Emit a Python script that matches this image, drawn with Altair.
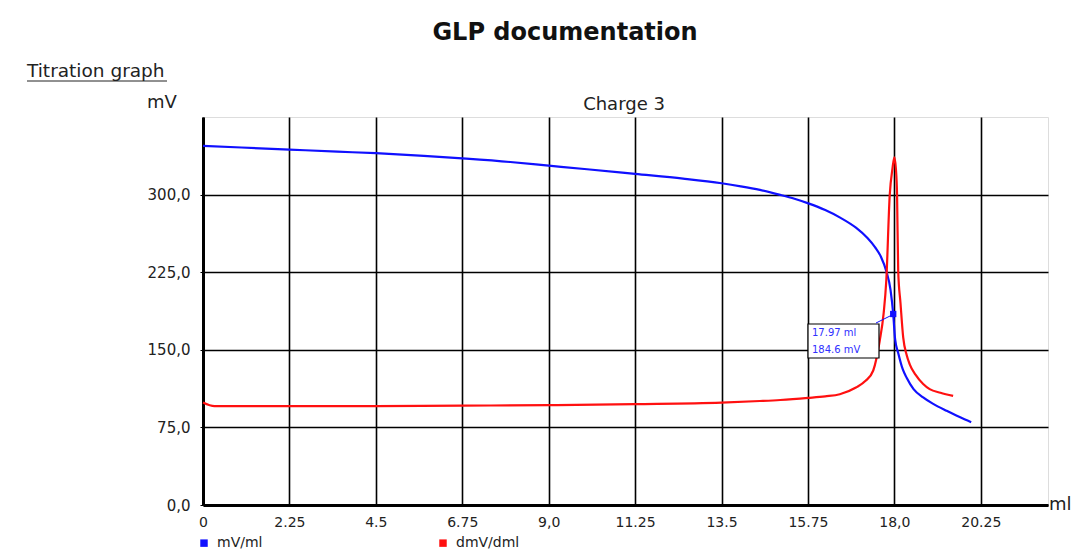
import altair as alt
import pandas as pd

# ---- data ----
mv_ml = [0.0, 1.0, 2.25, 3.5, 4.5, 5.75, 6.75, 8.0, 9.0, 10.0, 11.25, 12.5, 13.5, 14.0,
         14.5, 15.0, 15.4, 15.76, 16.2, 16.6, 17.0, 17.3, 17.5, 17.65, 17.79, 17.9, 17.97,
         18.02, 18.1, 18.22, 18.32, 18.5, 18.75, 19.0, 19.36, 19.7, 20.0]
mv_val = [347, 345.5, 343.5, 341.5, 340, 337.5, 335, 331.5, 328, 324.5, 320, 315.5, 311, 308,
          304.5, 300, 296, 291.5, 285, 277.5, 268, 258, 249, 240, 226, 208, 184.6,
          160, 147, 131, 123, 112, 104, 98, 91, 85, 80]

dmv_ml = [0.0, 0.3, 0.6, 2.25, 4.5, 6.75, 9.0, 11.25, 13.5, 14.5, 15.03, 15.75, 16.2,
          16.58, 17.0, 17.25, 17.45, 17.62, 17.72, 17.79, 17.88, 17.95, 18.0, 18.04,
          18.07, 18.1, 18.16, 18.23, 18.32, 18.4, 18.55, 18.75, 18.92, 19.2, 19.53]
dmv_val = [99, 95.5, 95.5, 95.5, 95.5, 96, 96.5, 97.5, 99, 100.5, 101.5, 103.5, 105,
           107, 113.5, 120, 130, 159, 185, 217, 300, 325, 336, 325,
           300, 226, 195, 162, 145, 136, 126, 117, 112, 108.5, 105.5]

series_names = ["mV/ml", "dmV/dml"]
series_colors = ["#1010ff", "#ff1010"]

x_ticks = [0, 2.25, 4.5, 6.75, 9.0, 11.25, 13.5, 15.75, 18.0, 20.25]
y_ticks = [0, 75, 150, 225, 300]

ann_x, ann_y = 17.97, 184.6

FONT = "DejaVu Sans"
W, H = 845, 388

df = pd.concat([
    pd.DataFrame({"ml": mv_ml, "mV": mv_val, "series": series_names[0], "order": range(len(mv_ml))}),
    pd.DataFrame({"ml": dmv_ml, "mV": dmv_val, "series": series_names[1], "order": range(len(dmv_ml))}),
])

xscale = alt.Scale(domain=[0, 22], nice=False, zero=False)
yscale = alt.Scale(domain=[0, 375], nice=False)

x_label_expr = ("datum.value == 0 ? '0' : (datum.value % 1 == 0 ? "
                "replace(format(datum.value, '.1f'), '.', ',') : toString(datum.value))")
y_label_expr = "replace(format(datum.value, '.1f'), '.', ',')"

lines = alt.Chart(df).mark_line(strokeWidth=2.2, interpolate="monotone").encode(
    x=alt.X("ml:Q", scale=xscale,
            axis=alt.Axis(values=x_ticks, title=None, grid=True, gridColor="black",
                          gridWidth=1.6, gridOpacity=1, domainColor="black", domainWidth=3,
                          ticks=False, labelExpr=x_label_expr, labelFont=FONT,
                          labelFontSize=14, labelColor="#222", labelPadding=10,
                          labelFlush=False)),
    y=alt.Y("mV:Q", scale=yscale,
            axis=alt.Axis(values=y_ticks, title=None, grid=True, gridColor="black",
                          gridWidth=1.6, gridOpacity=1, domainColor="black", domainWidth=3,
                          ticks=True, tickSize=3, tickColor="black", labelExpr=y_label_expr,
                          labelFont=FONT, labelFontSize=15, labelColor="#222",
                          labelPadding=10)),
    color=alt.Color("series:N", scale=alt.Scale(domain=series_names, range=series_colors),
                    legend=alt.Legend(orient="none", legendX=-6, legendY=419, title=None,
                                      direction="horizontal", symbolType="square",
                                      symbolSize=12, symbolStrokeWidth=4,
                                      labelFont=FONT, labelFontSize=14, labelColor="#222",
                                      columnPadding=170, labelOffset=6)),
    order="order:Q",
    detail="series:N",
)

ann_df = pd.DataFrame({"ml": [ann_x], "mV": [ann_y],
                       "l1": [f"{ann_x:.2f} ml"], "l2": [f"{ann_y:.1f} mV"]})

marker = alt.Chart(ann_df).mark_square(size=40, color="#1010ff", opacity=1).encode(
    x=alt.X("ml:Q", scale=xscale), y=alt.Y("mV:Q", scale=yscale))

box = alt.Chart(ann_df).mark_rect(fill="white", stroke="black", strokeWidth=1.2).encode(
    x=alt.value(605), x2=alt.value(676), y=alt.value(207), y2=alt.value(241))
connector = alt.Chart(ann_df).mark_rule(color="#1010ff", strokeWidth=1).encode(
    x=alt.value(673), x2=alt.value(689), y=alt.value(206), y2=alt.value(198))
ann_t1 = alt.Chart(ann_df).mark_text(align="left", baseline="middle", font=FONT,
                                     fontSize=10, color="#3030ff").encode(
    x=alt.value(609), y=alt.value(216), text="l1:N")
ann_t2 = alt.Chart(ann_df).mark_text(align="left", baseline="middle", font=FONT,
                                     fontSize=10, color="#3030ff").encode(
    x=alt.value(609), y=alt.value(233), text="l2:N")

def label(txt, x, y, size, align="center", weight="normal", color="#222"):
    return alt.Chart(pd.DataFrame({"t": [txt]})).mark_text(
        align=align, baseline="middle", font=FONT, fontSize=size, fontWeight=weight,
        color=color).encode(x=alt.value(x), y=alt.value(y), text="t:N")

title = label("GLP documentation", 362, -84, 24, weight="bold", color="#111")
sub = label("Titration graph", -176, -46, 18.5, align="left")
underline = alt.Chart(pd.DataFrame({"t": [0]})).mark_rule(color="#222", strokeWidth=1).encode(
    x=alt.value(-176), x2=alt.value(-36), y=alt.value(-36))
ylab = label("mV", -41, -14, 18)
charge = label("Charge 3", 421, -12, 18)
xlab = label("ml", 846, 388, 18, align="left")

chart = alt.layer(
    lines, box, connector, ann_t1, ann_t2, marker,
    title, sub, underline, ylab, charge, xlab
).properties(
    width=W, height=H,
    autosize=alt.AutoSizeParams(type="none"),
    padding={"left": 195, "top": 109, "right": 24, "bottom": 45},
).configure_view(stroke=None).configure(background="white")

chart.save("out.html", embed_options={"renderer": "svg", "actions": False})
